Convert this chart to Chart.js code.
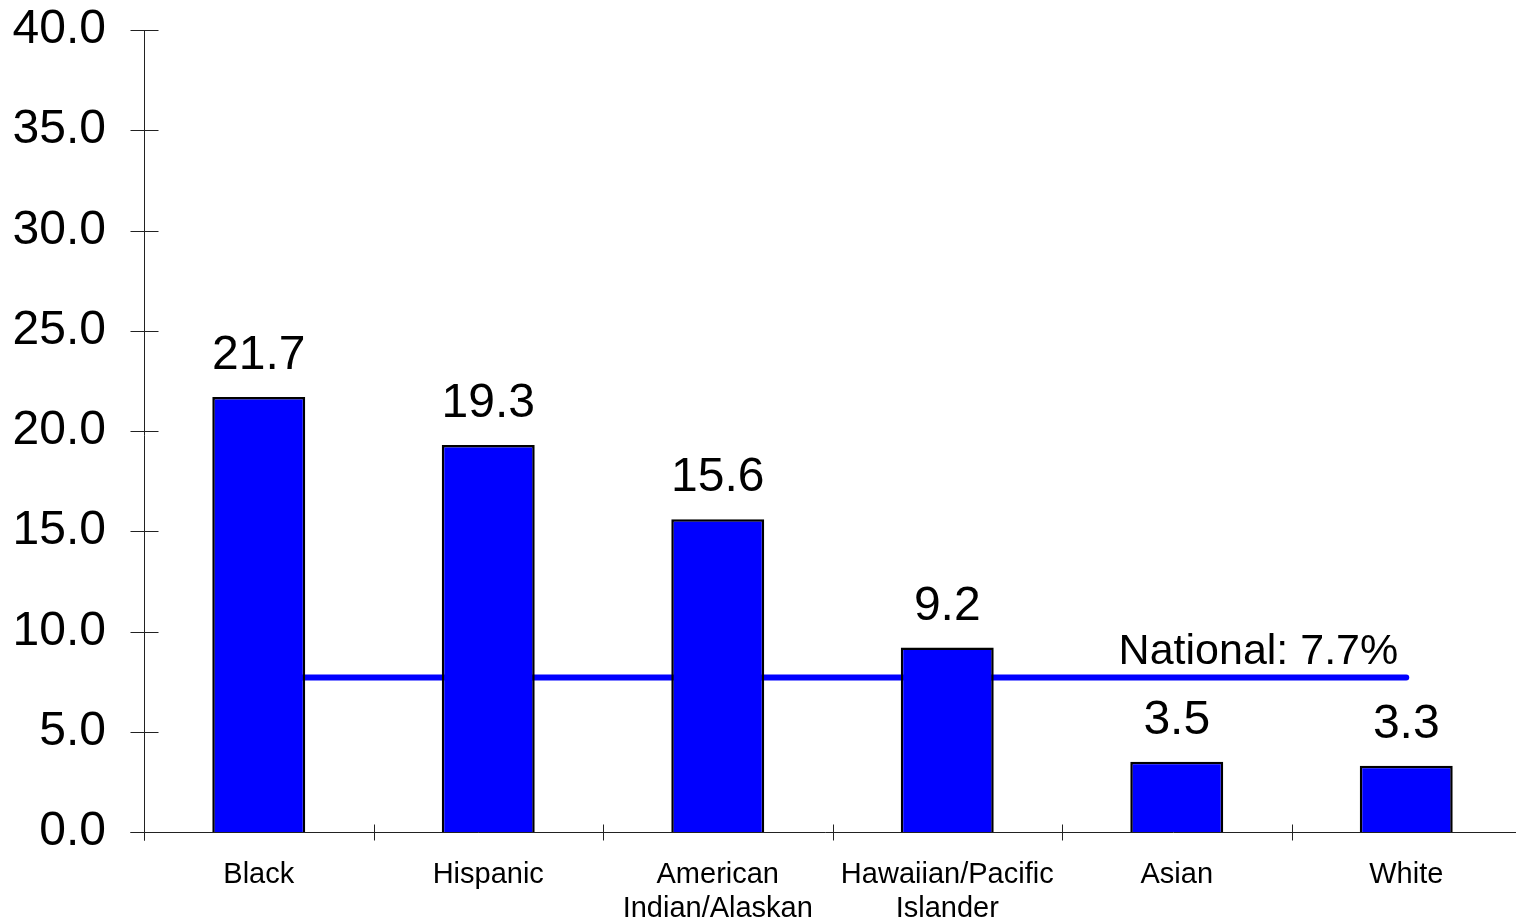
<!DOCTYPE html>
<html>
<head>
<meta charset="utf-8">
<script src="https://cdn.jsdelivr.net/npm/chart.js@4/dist/chart.umd.min.js"></script>
<style>
  html, body { margin: 0; padding: 0; background: #fff; overflow: hidden; }
  #wrap { position: absolute; left: 0; top: 0; width: 1522px; height: 923px; }
</style>
</head>
<body>
<div id="wrap"><canvas id="rateChart"></canvas></div>
<script>
const categories = [
  "Black",
  "Hispanic",
  ["American", "Indian/Alaskan"],
  ["Hawaiian/Pacific", "Islander"],
  "Asian",
  "White"
];
const rates = [21.7, 19.3, 15.6, 9.2, 3.5, 3.3];
const nationalRate = 7.7;
const yTicks = [0, 5, 10, 15, 20, 25, 30, 35, 40];

const FONT = "'Liberation Sans', Arial, sans-serif";

// axis lines with ticks crossing the axes
const crossAxes = {
  id: "crossAxes",
  beforeDatasetsDraw(chart) {
    const { ctx, chartArea, scales: { x, y } } = chart;
    const ax = Math.round(chartArea.left) + 0.5;
    const ay = Math.round(chartArea.bottom) + 0.5;
    ctx.save();
    ctx.strokeStyle = "#222";
    ctx.lineWidth = 1;
    ctx.beginPath();
    ctx.moveTo(ax, chartArea.top);
    ctx.lineTo(ax, ay + 8);
    yTicks.forEach(v => {
      const py = Math.round(y.getPixelForValue(v)) + 0.5;
      ctx.moveTo(ax - 14, py);
      ctx.lineTo(ax + 14, py);
    });
    ctx.moveTo(ax - 14, ay);
    ctx.lineTo(chartArea.right, ay);
    const step = x.width / categories.length;
    for (let i = 0; i < categories.length; i++) {
      const px = Math.round(x.left + i * step) + 0.5;
      ctx.moveTo(px, ay - 8);
      ctx.lineTo(px, ay + 8);
    }
    ctx.stroke();
    ctx.restore();
  },
  afterDatasetsDraw(chart) {
    const { ctx } = chart;
    ctx.save();
    ctx.fillStyle = "#000";
    ctx.textAlign = "center";
    ctx.textBaseline = "alphabetic";
    ctx.font = "48px " + FONT;
    chart.getDatasetMeta(0).data.forEach((bar, i) => {
      ctx.fillText(rates[i].toFixed(1), bar.x, bar.y - 28);
    });
    // label for the national average line
    const pts = chart.getDatasetMeta(1).data;
    const last = pts[pts.length - 1];
    ctx.font = "43px " + FONT;
    ctx.textAlign = "right";
    ctx.fillText("National: " + nationalRate + "%", last.x - 8, last.y - 14);
    ctx.restore();
  }
};

new Chart(document.getElementById("rateChart"), {
  data: {
    labels: categories,
    datasets: [
      {
        type: "bar",
        data: rates,
        backgroundColor: "#0000ff",
        borderColor: "#000",
        borderWidth: 2.5,
        categoryPercentage: 1,
        barPercentage: 0.405,
        order: 1
      },
      {
        type: "line",
        data: categories.map(() => nationalRate),
        borderColor: "#0000ff",
        borderWidth: 6,
        borderCapStyle: "round",
        pointRadius: 0,
        fill: false,
        order: 2
      }
    ]
  },
  options: {
    responsive: true,
    maintainAspectRatio: false,
    animation: false,
    layout: { padding: { top: 30, right: 1, left: 0, bottom: 0 } },
    plugins: {
      legend: { display: false },
      tooltip: { enabled: false }
    },
    scales: {
      x: {
        afterFit(scale) {
          scale.height = 91;
          scale.paddingLeft = 0;
          scale.paddingRight = 0;
        },
        grid: { display: false, drawTicks: false },
        border: { display: false },
        ticks: {
          color: "#000",
          padding: 26,
          maxRotation: 0,
          autoSkip: false,
          font: { family: FONT, size: 29, lineHeight: 1.17 }
        }
      },
      y: {
        min: 0,
        max: 40,
        afterFit(scale) {
          scale.width = 144;
          scale.paddingTop = 0;
          scale.paddingBottom = 0;
        },
        grid: { display: false, drawTicks: false },
        border: { display: false },
        ticks: {
          stepSize: 5,
          color: "#000",
          padding: 38,
          font: { family: FONT, size: 48 },
          callback: v => v.toFixed(1)
        }
      }
    }
  },
  plugins: [crossAxes]
});
</script>
</body>
</html>
